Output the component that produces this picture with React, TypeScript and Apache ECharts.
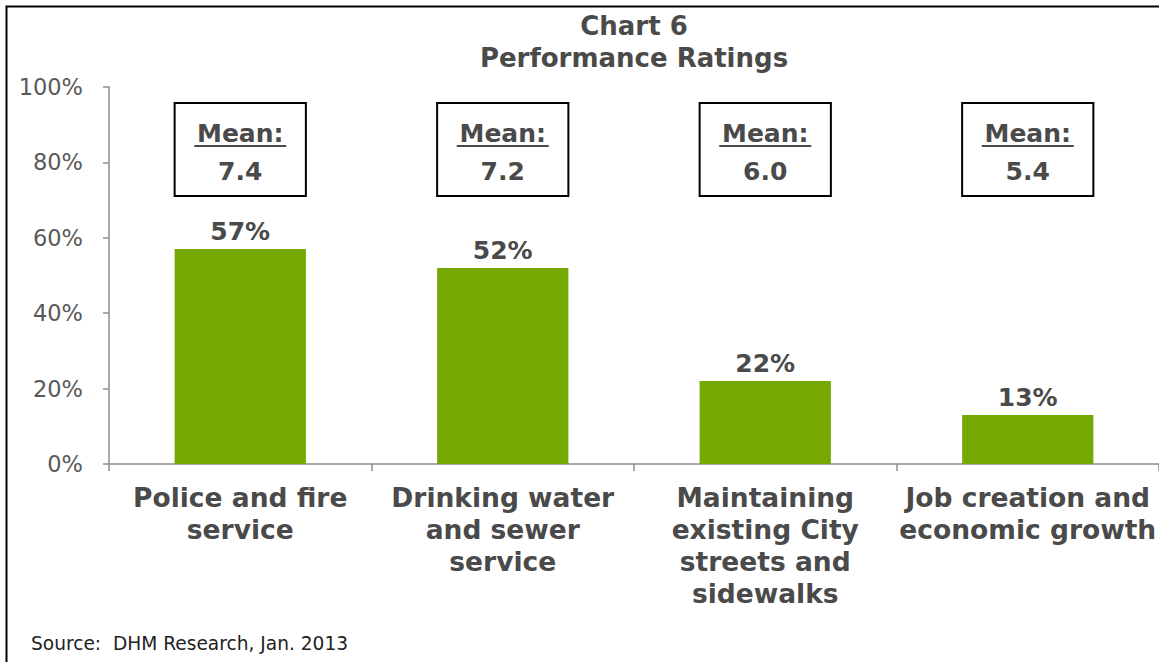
import React, { useEffect, useRef } from "react";
import * as echarts from "echarts";

const categories = [
  "Police and fire\nservice",
  "Drinking water\nand sewer\nservice",
  "Maintaining\nexisting City\nstreets and\nsidewalks",
  "Job creation and\neconomic growth",
];
const percentValues = [57, 52, 22, 13];
const meanScores = [7.4, 7.2, 6.0, 5.4];
const titleText = "Chart 6\nPerformance Ratings";
const sourceNote = "Source:  DHM Research, Jan. 2013";

const FONT = '"DejaVu Sans", Verdana, sans-serif';
const DARK = "#4a4a4a";

export default function App() {
  const ref = useRef<HTMLDivElement>(null);
  useEffect(() => {
    if (!ref.current) return;
    const chart = echarts.init(ref.current, undefined, { renderer: "svg" });
    chart.setOption({
      animation: false,
      backgroundColor: "#ffffff",
      textStyle: { fontFamily: FONT },
      title: {
        text: titleText,
        left: 634,
        top: 10,
        padding: 0,
        textAlign: "center",
        textStyle: {
          fontFamily: FONT,
          fontSize: 26,
          fontWeight: "bold",
          color: DARK,
          lineHeight: 32,
        },
      },
      grid: { left: 109, top: 87, width: 1052, height: 377, containLabel: false },
      xAxis: {
        type: "category",
        data: categories,
        axisLine: { show: true, lineStyle: { color: "#8c8c8c", width: 1.5 } },
        axisTick: { show: true, length: 7, alignWithLabel: false, lineStyle: { color: "#8c8c8c", width: 1.5 } },
        axisLabel: {
          interval: 0,
          margin: 17,
          fontFamily: FONT,
          fontSize: 26.5,
          fontWeight: "bold",
          color: DARK,
          lineHeight: 32,
          align: "center",
        },
        splitLine: { show: false },
      },
      yAxis: {
        type: "value",
        min: 0,
        max: 100,
        interval: 20,
        axisLine: { show: true, lineStyle: { color: "#8c8c8c", width: 1.5 } },
        axisTick: { show: true, length: 6, lineStyle: { color: "#8c8c8c", width: 1.5 } },
        axisLabel: {
          margin: 26,
          fontFamily: FONT,
          fontSize: 22.5,
          color: "#595959",
          formatter: "{value}%",
        },
        splitLine: { show: false },
      },
      series: [
        {
          type: "bar",
          data: percentValues,
          barWidth: "50%",
          itemStyle: { color: "#75a800" },
          label: {
            show: true,
            position: "top",
            distance: 5,
            formatter: "{c}%",
            fontFamily: FONT,
            fontSize: 25,
            fontWeight: "bold",
            color: DARK,
          },
        },
        {
          type: "custom",
          data: meanScores.map((m, i) => [i, m]),
          z: 5,
          renderItem: (params: any, api: any) => {
            const idx = api.value(0);
            const mean = api.value(1);
            const cx = api.coord([idx, 0])[0];
            const w = api.size([1, 0])[0] * 0.5;
            const top = api.coord([idx, 100])[1] + 16;
            const h = 93;
            return {
              type: "group",
              children: [
                {
                  type: "rect",
                  shape: { x: cx - w / 2, y: top, width: w, height: h },
                  style: { fill: "#ffffff", stroke: "#000000", lineWidth: 2 },
                },
                {
                  type: "text",
                  x: cx,
                  y: top + 30,
                  style: {
                    text: "Mean:",
                    font: `bold 25px ${FONT}`,
                    fill: DARK,
                    align: "center",
                    verticalAlign: "middle",
                  },
                },
                {
                  type: "line",
                  shape: { x1: cx - 46, y1: top + 43, x2: cx + 46, y2: top + 43 },
                  style: { stroke: DARK, lineWidth: 2 },
                },
                {
                  type: "text",
                  x: cx,
                  y: top + 68,
                  style: {
                    text: Number(mean).toFixed(1),
                    font: `bold 25px ${FONT}`,
                    fill: DARK,
                    align: "center",
                    verticalAlign: "middle",
                  },
                },
              ],
            };
          },
        },
      ],
      graphic: [
        {
          type: "rect",
          shape: { x: 6.5, y: 6.5, width: 1300, height: 800 },
          style: { fill: "none", stroke: "#000000", lineWidth: 2 },
          silent: true,
        },
        {
          type: "text",
          x: 31,
          y: 643,
          style: {
            text: sourceNote,
            font: `18.6px ${FONT}`,
            fill: "#222222",
            verticalAlign: "middle",
          },
        },
      ],
    });
    return () => chart.dispose();
  }, []);
  return (
    <div
      ref={ref}
      style={{ position: "fixed", left: 0, top: 0, width: 1159, height: 662, background: "#fff" }}
    />
  );
}
